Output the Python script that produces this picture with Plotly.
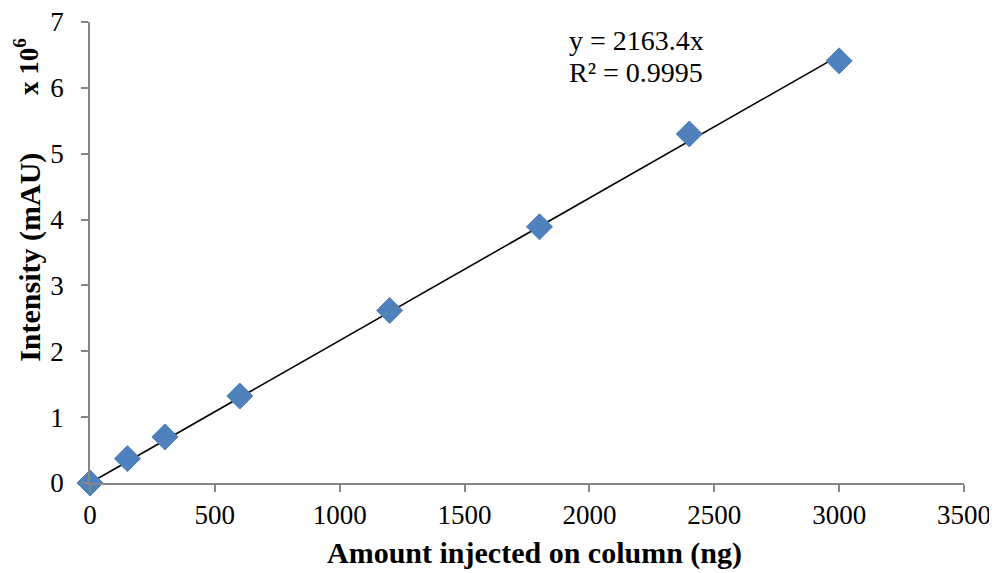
import plotly.graph_objects as go

amount_ng = [0, 150, 300, 600, 1200, 1800, 2400, 3000]
intensity = [0.0, 0.37, 0.70, 1.32, 2.62, 3.89, 5.30, 6.41]
slope = 2163.4e-6
fit_x = [0, 3000]
fit_y = [slope * v for v in fit_x]

FONT = "Liberation Serif, Times New Roman, serif"

fig = go.Figure()
fig.add_trace(go.Scatter(x=fit_x, y=fit_y, mode="lines", cliponaxis=False,
                         line=dict(color="black", width=1.6), showlegend=False))
fig.add_trace(go.Scatter(x=amount_ng, y=intensity, mode="markers", cliponaxis=False,
                         marker=dict(symbol="diamond", size=20, color="#4F81BD",
                                     line=dict(color="#4A7EBB", width=1)),
                         showlegend=False))

axis_common = dict(showgrid=False, zeroline=False, showline=True,
                   linecolor="#868686", linewidth=1.5, ticks="outside",
                   ticklen=7, tickcolor="#868686", tickwidth=1.5,
                   ticklabeloverflow="allow", automargin=False,
                   tickfont=dict(family=FONT, size=27, color="black"))

fig.update_xaxes(range=[0, 3500], dtick=500, **axis_common)
fig.update_yaxes(range=[0, 7], dtick=1, ticklabelstandoff=12, **axis_common)

# plot area on screen: x 90..964, y 22..483
fig.add_annotation(xref="paper", yref="paper", x=-0.069, y=0.490,
                   text="<b>Intensity (mAU)</b>", textangle=-90, showarrow=False,
                   font=dict(family=FONT, size=30, color="black"),
                   xanchor="center", yanchor="middle")
fig.add_annotation(xref="paper", yref="paper", x=-0.073, y=0.903,
                   text="<b>x 10<sup>6</sup></b>", textangle=-90, showarrow=False,
                   font=dict(family=FONT, size=27, color="black"),
                   xanchor="center", yanchor="middle")
fig.add_annotation(xref="paper", yref="paper", x=0.509, y=-0.152,
                   text="<b>Amount injected on column (ng)</b>", showarrow=False,
                   font=dict(family=FONT, size=30, color="black"),
                   xanchor="center", yanchor="middle")
fig.add_annotation(xref="paper", yref="paper", x=0.546, y=0.959,
                   text="y = 2163.4x", showarrow=False,
                   xanchor="left", yanchor="middle",
                   font=dict(family=FONT, size=28, color="black"))
fig.add_annotation(xref="paper", yref="paper", x=0.546, y=0.891,
                   text="R² = 0.9995", showarrow=False,
                   xanchor="left", yanchor="middle",
                   font=dict(family=FONT, size=28, color="black"))

fig.update_layout(width=997, height=573, plot_bgcolor="white", paper_bgcolor="white",
                  margin=dict(l=82, r=41, t=14, b=98, autoexpand=False))

fig.write_html("out.html")
